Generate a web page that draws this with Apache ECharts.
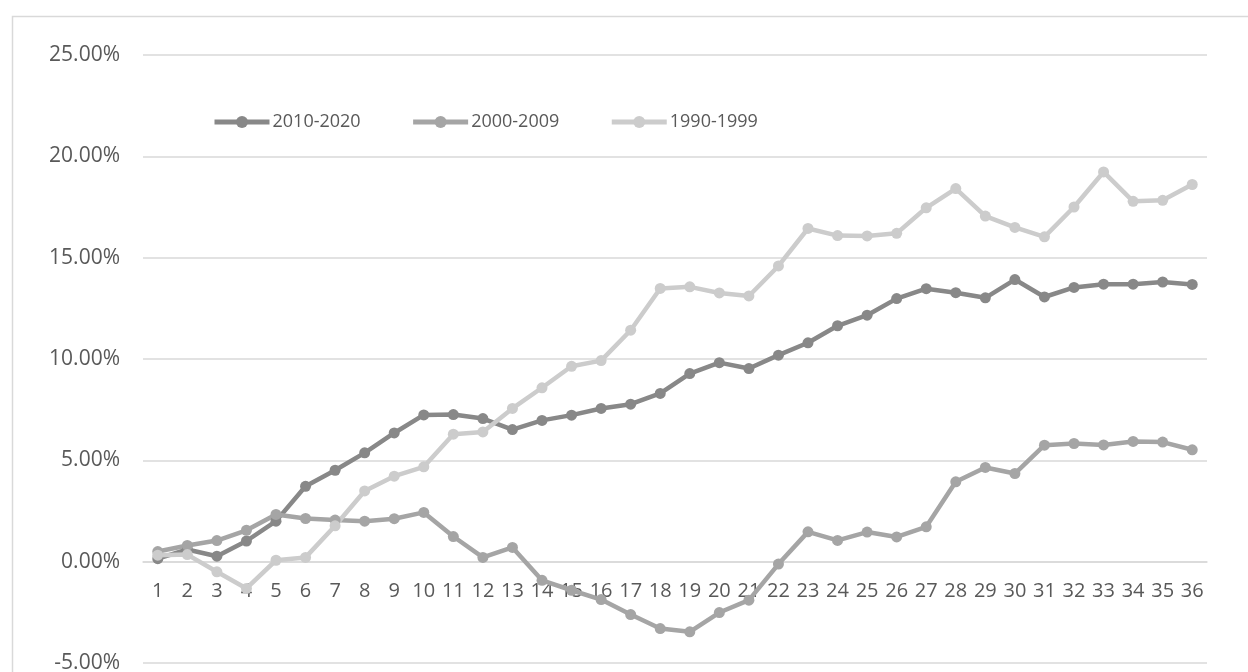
<!DOCTYPE html>
<html>
<head>
<meta charset="utf-8">
<script src="https://cdn.jsdelivr.net/npm/echarts@6/dist/echarts.min.js"></script>
<style>
  html, body { margin: 0; padding: 0; background: #ffffff; }
  #chart { width: 1248px; height: 672px; }
</style>
</head>
<body>
<div id="chart"></div>
<script>
// Months since start of each decade
const categories = Array.from({ length: 36 }, (_, i) => String(i + 1));

const seriesNames = ['2010-2020', '2000-2009', '1990-1999'];

// Cumulative return (%) per month
const values2010 = [0.15, 0.6, 0.27, 1.02, 2.0, 3.72, 4.51, 5.37, 6.35, 7.24, 7.26, 7.06,
  6.52, 6.97, 7.23, 7.56, 7.77, 8.3, 9.28, 9.82, 9.53, 10.19, 10.8, 11.64,
  12.16, 12.98, 13.47, 13.27, 13.02, 13.92, 13.06, 13.53, 13.69, 13.69, 13.8, 13.68];

const values2000 = [0.5, 0.8, 1.04, 1.55, 2.33, 2.13, 2.05, 2.0, 2.12, 2.43, 1.24, 0.21,
  0.7, -0.92, -1.41, -1.87, -2.61, -3.3, -3.46, -2.51, -1.9, -0.12, 1.47, 1.05,
  1.46, 1.22, 1.72, 3.94, 4.65, 4.35, 5.75, 5.83, 5.76, 5.93, 5.9, 5.52];

const values1990 = [0.32, 0.35, -0.5, -1.32, 0.07, 0.21, 1.77, 3.49, 4.22, 4.68, 6.29, 6.4,
  7.56, 8.58, 9.64, 9.92, 11.42, 13.48, 13.56, 13.26, 13.11, 14.59, 16.44, 16.09,
  16.07, 16.2, 17.46, 18.41, 17.05, 16.49, 16.03, 17.5, 19.23, 17.78, 17.83, 18.61];

// Value axis range and tick step (%)
const yMin = -5;
const yMax = 25;
const yStep = 5;

const seriesColors = ['#888888', '#a5a5a5', '#cccccc'];

const FONT = '"Open Sans", "Noto Sans", sans-serif';
const TEXT_COLOR = '#595959';
const GRID_COLOR = '#d9d9d9';

const CHART_H = 672;
const GRID_TOP = 55;
const GRID_BOTTOM = 9;
const plotHeight = CHART_H - GRID_TOP - GRID_BOTTOM;
// lift the category axis from the bottom edge up to the zero line
const zeroLift = plotHeight * (0 - yMin) / (yMax - yMin);

const chart = echarts.init(document.getElementById('chart'), null, { renderer: 'canvas' });

const allValues = [values2010, values2000, values1990];

const option = {
  backgroundColor: '#ffffff',
  animation: false,
  textStyle: { fontFamily: FONT },
  graphic: [{
    type: 'rect',
    left: 10,
    top: 14,
    shape: { width: 1260, height: 700 },
    style: { fill: 'none', stroke: GRID_COLOR, lineWidth: 1.5 },
    silent: true,
    z: -1
  }],
  legend: {
    left: 207,
    top: 108,
    padding: 5,
    itemWidth: 55,
    itemHeight: 15,
    itemGap: 50,
    lineStyle: { width: 5 },
    textStyle: { fontFamily: FONT, fontSize: 18, color: TEXT_COLOR, padding: [0, 0, 0, -2] },
    data: seriesNames
  },
  grid: {
    left: 143,
    right: 41,
    top: GRID_TOP,
    bottom: GRID_BOTTOM,
    containLabel: false,
    outerBoundsMode: 'none'
  },
  xAxis: {
    type: 'category',
    data: categories,
    boundaryGap: true,
    position: 'bottom',
    offset: -zeroLift,
    axisLine: { onZero: false, lineStyle: { color: GRID_COLOR, width: 1.5 } },
    axisTick: { show: false },
    axisLabel: {
      interval: 0,
      color: TEXT_COLOR,
      fontFamily: FONT,
      fontSize: 20,
      margin: 20
    }
  },
  yAxis: {
    type: 'value',
    min: yMin,
    max: yMax,
    interval: yStep,
    axisLine: { show: false },
    axisTick: { show: false },
    splitLine: { lineStyle: { color: GRID_COLOR, width: 1.5 } },
    axisLabel: {
      color: TEXT_COLOR,
      fontFamily: FONT,
      fontSize: 21,
      margin: 23,
      formatter: v => v.toFixed(2) + '%'
    }
  },
  series: seriesNames.map((name, i) => ({
    name,
    type: 'line',
    data: allValues[i],
    symbol: 'circle',
    symbolSize: 11,
    showSymbol: true,
    lineStyle: { width: 4.5, color: seriesColors[i] },
    itemStyle: { color: seriesColors[i] },
    emphasis: { disabled: true }
  }))
};

chart.setOption(option);
</script>
</body>
</html>
